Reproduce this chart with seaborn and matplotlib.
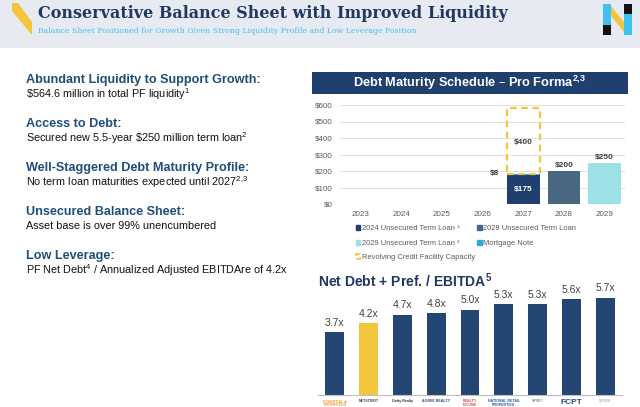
import numpy as np
import pandas as pd
import matplotlib
matplotlib.use('Agg')
import matplotlib.pyplot as plt
import seaborn as sns
from matplotlib.patches import Patch, Polygon, Rectangle

# debt maturity schedule ($ millions)
years = ['2023', '2024', '2025', '2026', '2027', '2028', '2029']
loan_2024 = [0, 0, 0, 0, 175, 0, 0]
mortgage = [0, 0, 0, 0, 8, 0, 0]
revolver = [0, 0, 0, 0, 400, 0, 0]
loan_2028 = [0, 0, 0, 0, 0, 200, 0]
loan_2029 = [0, 0, 0, 0, 0, 0, 250]

# net debt + pref / EBITDA peer comparison
peers = ['ESSENTIAL \u25c6\nPROPERTIES', 'NETSTREIT', 'Getty Realty', 'AGREE REALTY',
         'REALTY\nINCOME', 'NATIONAL RETAIL\nPROPERTIES', 'SPIRIT', 'FCPT', 'STORE']
leverage = [3.7, 4.2, 4.7, 4.8, 5.0, 5.3, 5.3, 5.6, 5.7]
peer_colors = ['#e8a33d', '#444444', '#333333', '#2d4a7a', '#d9534f',
               '#2d5aa0', '#8a8f99', '#2a4f86', '#b5b9c2']

headings = ['Abundant Liquidity to Support Growth:', 'Access to Debt:',
            'Well-Staggered Debt Maturity Profile:', 'Unsecured Balance Sheet:',
            'Low Leverage:']
details = ['\\$564.6 million in total PF liquidity$^{\\mathregular{1}}$',
           'Secured new 5.5-year \\$250 million term loan$^{\\mathregular{2}}$',
           'No term loan maturities expected until 2027$^{\\mathregular{2{,}3}}$',
           'Asset base is over 99% unencumbered',
           'PF Net Debt$^{\\mathregular{4}}$ / Annualized Adjusted EBITDAre of 4.2x']

NAVY = '#1f3f6e'
SLATE = '#4a6781'
CYAN = '#9de0e6'
BLUE = '#29abe2'
YELLOW = '#f2c53d'
GREY_TXT = '#595959'

sns.set_theme(style='white')
plt.rcParams['font.family'] = ['Liberation Sans', 'DejaVu Sans']

W, H = 640, 407


def box(x0, y0, x1, y1):
    """pixel box -> figure fraction rect"""
    return [x0 / W, 1 - y1 / H, (x1 - x0) / W, (y1 - y0) / H]


fig = plt.figure(figsize=(6.4, 4.07), dpi=100)
bg = fig.add_axes([0, 0, 1, 1])
bg.set_xlim(0, W)
bg.set_ylim(H, 0)
bg.axis('off')

# header band, title and decorations
bg.add_patch(Rectangle((0, 0), W, 48, color='#e7eaf1', lw=0))
bg.add_patch(Polygon([(12, 3), (18, 3), (32, 22), (32, 35), (12, 11)], color=YELLOW, lw=0))
bg.text(38, 14, 'Conservative Balance Sheet with Improved Liquidity', family='DejaVu Serif',
        fontweight='bold', fontsize=11.5, color='#1f3864', va='center')
bg.text(38, 31, 'Balance Sheet Positioned for Growth Given Strong Liquidity Profile and Low Leverage Position',
        family='DejaVu Serif', fontsize=5.6, color='#48bfee', va='center')
# N logo
bg.add_patch(Polygon([(603, 6), (611, 6), (632, 32), (624, 32)], color=YELLOW, lw=0))
bg.add_patch(Rectangle((603, 4), 8, 21, color='#3ec1f0', lw=0))
bg.add_patch(Rectangle((603, 25), 8, 10, color='#111111', lw=0))
bg.add_patch(Rectangle((624, 4), 8, 10, color='#111111', lw=0))
bg.add_patch(Rectangle((624, 14), 8, 21, color='#3ec1f0', lw=0))

# left column
for i, (h, d) in enumerate(zip(headings, details)):
    y = 80 + i * 44
    bg.text(26, y, h, fontsize=9.1, fontweight='bold', color='#1f4e79', va='center')
    bg.text(26, y + 14, d, fontsize=7.8, color='#111111', va='center')

# ---- debt maturity schedule ----
bg.add_patch(Rectangle((312, 72), 316, 22, color=NAVY, lw=0))
bg.text(470, 83, 'Debt Maturity Schedule \u2013 Pro Forma$^{\\mathregular{2{,}3}}$', color='white',
        fontweight='bold', fontsize=9.2, ha='center', va='center')

df = pd.DataFrame({'year': years, 'loan_2024': loan_2024, 'mortgage': mortgage,
                   'revolver': revolver, 'loan_2028': loan_2028, 'loan_2029': loan_2029})
df['stack'] = df['loan_2024'] + df['mortgage']

ax = fig.add_axes(box(340, 105, 625, 204))
ax.patch.set_alpha(0)
sns.barplot(data=df, x='year', y='stack', color=BLUE, saturation=1, errorbar=None,
            linewidth=0, ax=ax, zorder=3)
sns.barplot(data=df, x='year', y='loan_2024', color=NAVY, saturation=1, errorbar=None,
            linewidth=0, ax=ax, zorder=3)
sns.barplot(data=df, x='year', y='loan_2028', color=SLATE, saturation=1, errorbar=None,
            linewidth=0, ax=ax, zorder=3)
sns.barplot(data=df, x='year', y='loan_2029', color=CYAN, saturation=1, errorbar=None,
            linewidth=0, ax=ax, zorder=3)
rv = df[df['revolver'] > 0]
ax.bar(rv.index, rv['revolver'], bottom=rv['stack'], width=0.8, fill=False,
       edgecolor=YELLOW, linestyle=(0, (3, 2)), linewidth=1.6, zorder=4)

ax.set_ylim(0, 600)
ax.set_xlim(-0.5, 6.5)
ax.set_yticks(range(0, 601, 100))
ax.set_yticklabels([f'${v}' for v in range(0, 601, 100)])
ax.tick_params(labelsize=5.8, labelcolor=GREY_TXT, length=0, pad=5)
ax.set_xlabel('')
ax.set_ylabel('')
ax.yaxis.grid(True, color='#d9d9d9', lw=0.6)
ax.set_axisbelow(True)
sns.despine(ax=ax, left=True, bottom=True)

for i, r in df.iterrows():
    if r['loan_2024']:
        ax.text(i, r['loan_2024'] / 2, f"${r['loan_2024']}", color='white', fontweight='bold',
                fontsize=6, ha='center', va='center', zorder=5)
    if r['mortgage']:
        ax.text(i - 0.58, r['stack'], f"${r['mortgage']}", color='#404040', fontweight='bold',
                fontsize=6, ha='right', va='center', zorder=5)
    if r['revolver']:
        ax.text(i, r['stack'] + r['revolver'] * 0.47, f"${r['revolver']}", color='#404040',
                fontweight='bold', fontsize=6, ha='center', va='center', zorder=5)
    for col in ['loan_2028', 'loan_2029']:
        if r[col]:
            ax.text(i, r[col] + 12, f"${r[col]}", color='#404040', fontweight='bold',
                    fontsize=6, ha='center', va='bottom', zorder=5)

handles = [Patch(color=NAVY), Patch(color=CYAN),
           Patch(fill=False, edgecolor=YELLOW, linestyle='--', linewidth=1.2),
           Patch(color=SLATE), Patch(color=BLUE)]
labels = ['2024 Unsecured Term Loan \u00b3', '2029 Unsecured Term Loan \u00b2',
          'Revolving Credit Facility Capacity', '2028 Unsecured Term Loan', 'Mortgage Note']
ax.legend(handles, labels, ncol=2, loc='upper left', bbox_to_anchor=(0.055, -0.215),
          frameon=False, fontsize=5.4, labelcolor=GREY_TXT, handlelength=0.6, handleheight=0.6,
          handletextpad=0.2, columnspacing=0.3, labelspacing=1.0, borderpad=0, borderaxespad=0)

# ---- net debt + pref / EBITDA ----
bg.text(318, 281, 'Net Debt + Pref. / EBITDA$^{\\mathregular{5}}$', color='#1f3864',
        fontweight='bold', fontsize=10, va='center')

ax2 = fig.add_axes(box(318, 284, 622, 395))
ax2.patch.set_alpha(0)
bar_colors = [YELLOW if p == 'NETSTREIT' else '#244672' for p in peers]
sns.barplot(x=peers, y=leverage, hue=peers, palette=bar_colors, saturation=1, width=0.56,
            legend=False, errorbar=None, linewidth=0, ax=ax2)
ax2.set_ylim(0, 6.5)
ax2.set_xlim(-0.5, 8.5)
ax2.set_yticks([])
ax2.set_ylabel('')
for i, v in enumerate(leverage):
    ax2.text(i, v + 0.25, f'{v:.1f}x', ha='center', va='bottom', fontsize=7.5, color='#404040')
sns.despine(ax=ax2, left=True)
ax2.spines['bottom'].set_color('#bfbfbf')
ax2.spines['bottom'].set_linewidth(0.8)
ax2.set_xticks(range(len(peers)))
ax2.set_xticklabels(peers, fontsize=2.6, fontweight='bold', linespacing=0.9)
ax2.tick_params(axis='x', length=0, pad=3)
for lbl, c in zip(ax2.get_xticklabels(), peer_colors):
    lbl.set_color(c)
    if lbl.get_text() == 'FCPT':
        lbl.set_fontsize(6)

fig.savefig('out.png', dpi=100)
